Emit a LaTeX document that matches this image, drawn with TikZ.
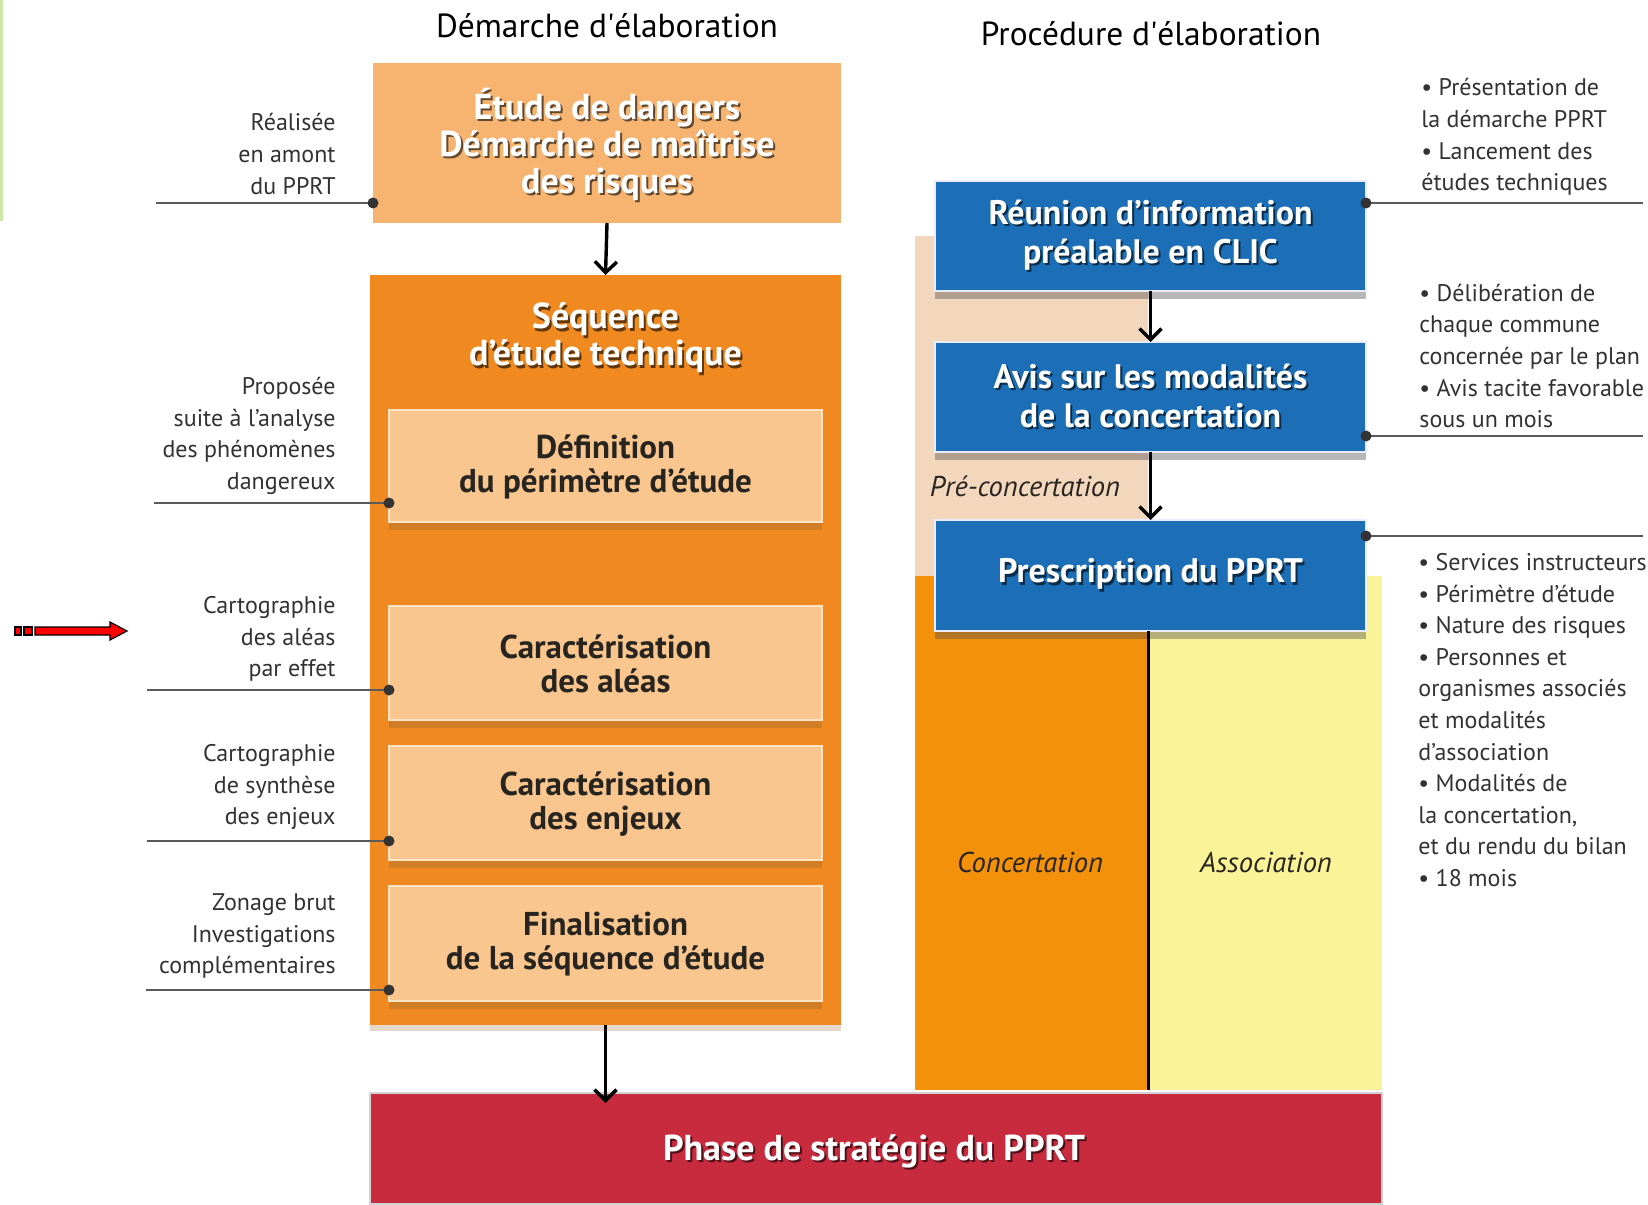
\documentclass[tikz,border=0pt]{standalone}
\usepackage{fontspec}
\setmainfont{PT Sans}
\usetikzlibrary{arrows.meta,shadows,calc}
\definecolor{peachA}{RGB}{246,180,112}
\definecolor{seqorange}{RGB}{240,138,32}
\definecolor{subpeach}{RGB}{248,198,142}
\definecolor{subborder}{RGB}{253,228,196}
\definecolor{pblue}{RGB}{28,110,182}
\definecolor{tanband}{RGB}{243,215,188}
\definecolor{concor}{RGB}{243,146,10}
\definecolor{assocy}{RGB}{250,243,152}
\definecolor{phasered}{RGB}{200,42,62}
\definecolor{txtdark}{RGB}{40,36,32}
\definecolor{notegray}{RGB}{50,50,50}
\definecolor{linegray}{RGB}{90,90,90}
\definecolor{greenbar}{RGB}{204,232,165}
\newcommand{\shtext}[4]{%
  \node[#3, text=black, opacity=0.6] (#1s) at ($#2+(2,2.4)$) {#4};
  \node[#3, text=white] (#1) at #2 {#4};}
\tikzset{
  panel/.style={rectangle, inner sep=0pt, outer sep=0pt},
  bigw/.style={font=\bfseries\fontsize{18}{18.5}\selectfont, align=center, inner sep=0pt},
  subtxt/.style={font=\bfseries\fontsize{16.5}{17}\selectfont, align=center, text=txtdark, inner sep=0pt},
  bluet/.style={font=\bfseries\fontsize{17}{19.5}\selectfont, align=center, inner sep=0pt},
  notetxt/.style={font=\fontsize{12}{15.8}\selectfont, text=notegray, inner sep=0pt},
  ittxt/.style={font=\itshape\fontsize{14.3}{16}\selectfont, text=txtdark, inner sep=0pt},
  titletxt/.style={font=\fontsize{16.7}{18}\selectfont, text=black, inner sep=0pt},
  annot/.style={draw=linegray, line width=0.8pt},
  enddot/.style={circle, fill=black!80, minimum size=5.5pt, inner sep=0pt},
  arr/.style={draw=black, line width=1.7pt, -{Straight Barb[length=5.5pt,width=11pt]}},
  subbox/.style={panel, fill=subpeach, draw=subborder, line width=1.2pt, minimum width=216.5pt,
     drop shadow={shadow xshift=0pt, shadow yshift=-4pt, opacity=0.35, fill=brown!80!black}},
  bluebox/.style={panel, fill=pblue, draw=blue!8, line width=1pt, minimum width=215.5pt, minimum height=55pt,
     drop shadow={shadow xshift=0pt, shadow yshift=-4pt, opacity=0.4, fill=black!70}},
}
\begin{document}
\begin{tikzpicture}[x=0.5pt,y=-0.5pt]
\useasboundingbox (0,0) rectangle (1648,1204);
\fill[white] (0,0) rectangle (1648,1204);
\fill[greenbar] (0,0) rectangle (3,221);

% titles
\node[titletxt] (t1) at (607,26) {Démarche d\textquotesingle élaboration};
\node[titletxt] (t2) at (1151,34) {Procédure d\textquotesingle élaboration};

% left column
\node[panel, fill=peachA, minimum width=234pt, minimum height=80pt] (b1) at (607,143) {};
\shtext{b1t}{(607,144)}{bigw}{Étude de dangers\\Démarche de maîtrise\\des risques}
\node[panel, fill=seqorange, minimum width=235.5pt, minimum height=375pt,
   drop shadow={shadow xshift=0pt, shadow yshift=-3pt, opacity=0.25, fill=brown!80!black}] (b2) at (605.5,650) {};
\shtext{b2t}{(605.5,338)}{bigw}{Séquence\\d’étude technique}

\node[subbox, minimum height=56pt] (s1) at (605.5,466) {};
\node[subtxt] (s1t) at (605.5,467) {Définition\\du périmètre d’étude};
\node[subbox, minimum height=57pt] (s2) at (605.5,663) {};
\node[subtxt] (s2t) at (605.5,664) {Caractérisation\\des aléas};
\node[subbox, minimum height=57pt] (s3) at (605.5,803) {};
\node[subtxt] (s3t) at (605.5,804) {Caractérisation\\des enjeux};
\node[subbox, minimum height=57.5pt] (s4) at (605.5,943.5) {};
\node[subtxt] (s4t) at (605.5,944) {Finalisation\\de la séquence d’étude};

% right column backgrounds
\node[panel, fill=tanband, minimum width=116.5pt, minimum height=170pt] (tan) at (1031.5,406) {};
\node[panel, fill=concor, minimum width=116.5pt, minimum height=257pt] (conc) at (1031.5,833) {};
\node[panel, fill=assocy, minimum width=116pt, minimum height=257pt] (assoc) at (1266,833) {};

\node[bluebox] (reu) at (1150.5,236) {};
\shtext{reut}{(1150.5,235)}{bluet}{Réunion d’information\\préalable en CLIC}
\node[bluebox] (avis) at (1150.5,397) {};
\shtext{avist}{(1150.5,396)}{bluet}{Avis sur les modalités\\de la concertation}
\node[bluebox, minimum height=55.5pt] (presc) at (1150.5,575.5) {};
\shtext{presct}{(1150.5,574)}{bluet}{Prescription du PPRT}

\draw[line width=1.5pt] (presc.south -| conc.east) -- (conc.south east);

\node[ittxt] (pre) at (1025,486) {Pré-concertation};
\node[ittxt] (conct) at (1030,862) {Concertation};
\node[ittxt] (assoct) at (1266,862) {Association};

% bottom
\node[panel, fill=phasered, draw=gray!35, line width=0.6pt, minimum width=506pt, minimum height=55.5pt] (phase) at (876,1148.5) {};
\shtext{phaset}{(874,1151)}{bigw}{Phase de stratégie du PPRT}

% arrows
\draw[arr] (b1.south) -- (b2.north);
\draw[arr] (b2.south) -- ($(b2.south |- phase.north)+(0,10)$);
\draw[arr] (reu.south) -- (avis.north);
\draw[arr] (avis.south) -- (presc.north);

% left notes
\node[notetxt, align=right, anchor=east] (n1) at (336,154) {Réalisée\\en amont\\du PPRT};
\node[notetxt, align=right, anchor=east] (n2) at (336,436) {Proposée\\suite à l’analyse\\des phénomènes\\dangereux};
\node[notetxt, align=right, anchor=east] (n3) at (336,639) {Cartographie\\des aléas\\par effet};
\node[notetxt, align=right, anchor=east] (n4) at (336,787) {Cartographie\\de synthèse\\des enjeux};
\node[notetxt, align=right, anchor=east] (n5) at (336,936) {Zonage brut\\Investigations\\complémentaires};

\coordinate (la1) at (156,203);
\coordinate (la2) at (154,503);
\coordinate (la3) at (147,690);
\coordinate (la4) at (147,841);
\coordinate (la5) at (146,990);
\draw[annot] (la1) -- (la1 -| b1.west) node[enddot] (d1) {};
\draw[annot] (la2) -- (la2 -| s1.west) node[enddot] (d2) {};
\draw[annot] (la3) -- (la3 -| s2.west) node[enddot] (d3) {};
\draw[annot] (la4) -- (la4 -| s3.west) node[enddot] (d4) {};
\draw[annot] (la5) -- (la5 -| s4.west) node[enddot] (d5) {};

% right notes
\node[notetxt, align=left, anchor=west] (n6) at (1421,137) {• Présentation de\\la démarche PPRT\\• Lancement des\\études techniques};
\node[notetxt, align=left, anchor=west] (n7) at (1419,356) {• Délibération de\\chaque commune\\concernée par le plan\\• Avis tacite favorable\\sous un mois};
\node[notetxt, align=left, anchor=west] (n8) at (1418,720) {• Services instructeurs\\• Périmètre d’étude\\• Nature des risques\\• Personnes et\\organismes associés\\et modalités\\d’association\\• Modalités de\\la concertation,\\et du rendu du bilan\\• 18 mois};

\coordinate (ra1) at (1643,203);
\coordinate (ra2) at (1643,436);
\coordinate (ra3) at (1643,536);
\draw[annot] (ra1 -| reu.east) node[enddot] (d6) {} -- (ra1);
\draw[annot] (ra2 -| avis.east) node[enddot] (d7) {} -- (ra2);
\draw[annot] (ra3 -| presc.east) node[enddot] (d8) {} -- (ra3);

% red marker arrow
\filldraw[fill=red, draw=black, line width=0.6pt] (15,627) rectangle (21,635);
\filldraw[fill=red, draw=black, line width=0.6pt] (24,627) rectangle (32,635);
\filldraw[fill=red, draw=black, line width=0.6pt] (35,627) -- (110,627) -- (110,622) -- (127,631) -- (110,640) -- (110,635) -- (35,635) -- cycle;
\end{tikzpicture}
\end{document}
